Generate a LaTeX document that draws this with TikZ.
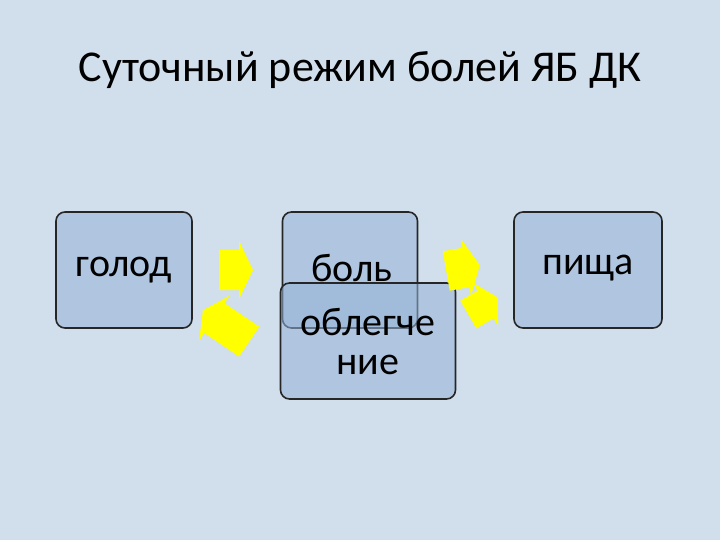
\documentclass[tikz,border=0pt]{standalone}
\usepackage{fontspec}
\setmainfont{Carlito}
\definecolor{bg}{RGB}{209,222,236}
\definecolor{bx}{RGB}{150,180,215}
\definecolor{yel}{RGB}{255,255,0}
\tikzset{box/.style={draw=black!85,line width=1.6pt,rounded corners=9pt,fill=bx,fill opacity=0.55},
btext/.style={font=\fontsize{40}{40}\selectfont,align=center},
pics/yarr/.style args={#1/#2}{code={\fill[yel] (-#1/2,-#2/2) -- (#1/2-14,-#2/2) -- (#1/2-14,-#2/2-9) -- (#1/2,0) -- (#1/2-14,#2/2+9) -- (#1/2-14,#2/2) -- (-#1/2,#2/2) -- cycle;}}}
\begin{document}
\begin{tikzpicture}[x=1pt,y=-1pt]
\fill[bg] (0,0) rectangle (720,540);
\useasboundingbox (0,0) rectangle (720,540);
\node (t) at (360,70) {\fontsize{44}{50}\selectfont Суточный режим болей ЯБ ДК};
\node[box,minimum width=136pt,minimum height=116pt] (g) at (124,270) {};
\node[btext] (gt) at (124,270) {голод};
\node[box,minimum width=135pt,minimum height=116pt] (b) at (350,270) {};
\node[box,minimum width=175pt,minimum height=116pt] (o) at (368,341) {};
\node[btext] (bt) at (352,268) {боль};
\node[btext] (ot) at (368,342) {облегче\\[-1pt]ние};
\node[box,minimum width=148pt,minimum height=116pt] (p) at (588,270) {};
\node[btext] (pt) at (588,268) {пища};
\pic[shift={(236,270)}] {yarr=34/40};
\pic[shift={(226,326)},rotate=146] {yarr=56/36};
\pic[shift={(463,268)},rotate=10] {yarr=34/40};
\pic[shift={(483,306)},rotate=30] {yarr=34/32};
\end{tikzpicture}
\end{document}
